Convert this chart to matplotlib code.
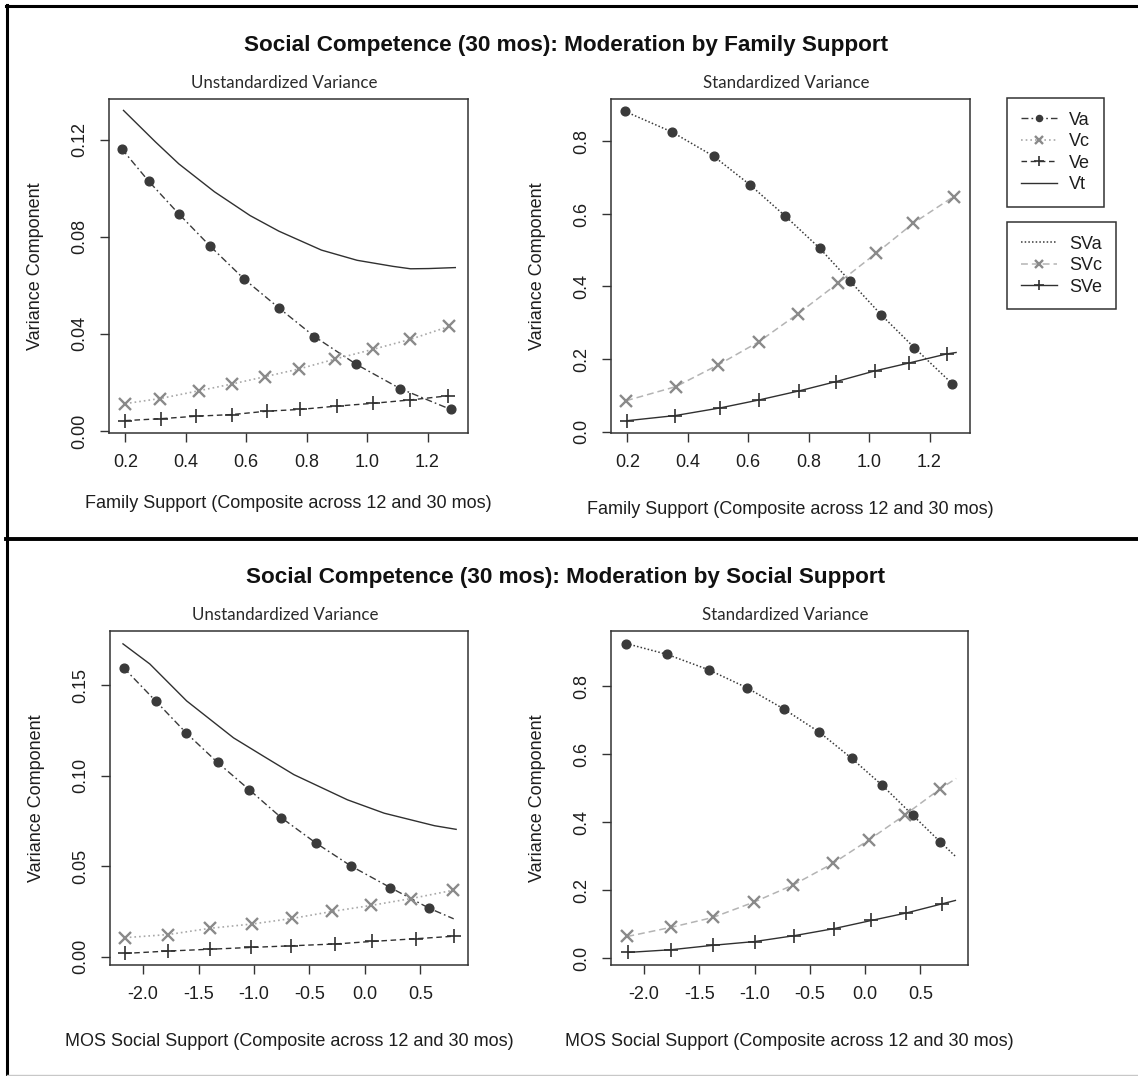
import matplotlib
matplotlib.use("Agg")
import matplotlib.pyplot as plt
from matplotlib.lines import Line2D

plt.rcParams['font.family'] = ['Liberation Sans', 'DejaVu Sans']

# ---------------- data ----------------
# Top: Family Support
fam_va_x = [0.188, 0.277, 0.377, 0.480, 0.593, 0.708, 0.826, 0.964, 1.109, 1.277]
fam_va_y = [0.1162, 0.1029, 0.0894, 0.0762, 0.0626, 0.0507, 0.0389, 0.0275, 0.0175, 0.0089]
fam_vc_x = [0.200, 0.316, 0.444, 0.554, 0.663, 0.776, 0.893, 1.018, 1.142, 1.272]
fam_vc_y = [0.0113, 0.0134, 0.0166, 0.0194, 0.0224, 0.0256, 0.0296, 0.0336, 0.0377, 0.0431]
fam_ve_x = [0.200, 0.318, 0.434, 0.554, 0.670, 0.778, 0.902, 1.018, 1.142, 1.268]
fam_ve_y = [0.0043, 0.0051, 0.0061, 0.0068, 0.0082, 0.0089, 0.0103, 0.0114, 0.0128, 0.0145]
fam_vt_x = [0.194, 0.300, 0.377, 0.495, 0.613, 0.708, 0.849, 0.967, 1.086, 1.144, 1.204, 1.292]
fam_vt_y = [0.1320, 0.1190, 0.1100, 0.0985, 0.0887, 0.0823, 0.0745, 0.0703, 0.0678, 0.0668, 0.0669, 0.0673]

fam_sva_x = [0.192, 0.348, 0.486, 0.605, 0.723, 0.836, 0.938, 1.040, 1.150, 1.275]
fam_sva_y = [0.883, 0.826, 0.759, 0.681, 0.594, 0.506, 0.414, 0.322, 0.231, 0.132]
fam_svc_x = [0.196, 0.361, 0.501, 0.636, 0.765, 0.897, 1.024, 1.147, 1.280]
fam_svc_y = [0.085, 0.124, 0.184, 0.248, 0.325, 0.409, 0.492, 0.575, 0.648]
fam_sve_x = [0.200, 0.358, 0.506, 0.635, 0.768, 0.892, 1.018, 1.132, 1.257]
fam_sve_y = [0.030, 0.044, 0.065, 0.087, 0.112, 0.138, 0.167, 0.189, 0.214]
fam_sve_end = (1.288, 0.218)

# Bottom: MOS Social Support
mos_va_x = [-2.175, -1.887, -1.609, -1.328, -1.043, -0.755, -0.445, -0.121, 0.231, 0.581]
mos_va_y = [0.1596, 0.1413, 0.1235, 0.1073, 0.0923, 0.0769, 0.0630, 0.0500, 0.0382, 0.0268]
mos_va_end = (0.801, 0.0210)
mos_vc_x = [-2.162, -1.774, -1.392, -1.020, -0.654, -0.292, 0.057, 0.419, 0.791]
mos_vc_y = [0.0106, 0.0123, 0.0158, 0.0181, 0.0212, 0.0251, 0.0284, 0.0322, 0.0367]
mos_ve_x = [-2.162, -1.774, -1.398, -1.027, -0.664, -0.270, 0.064, 0.458, 0.807]
mos_ve_y = [0.0019, 0.0032, 0.0042, 0.0052, 0.0061, 0.0071, 0.0085, 0.0100, 0.0114]
mos_vt_x = [-2.181, -1.939, -1.607, -1.184, -0.912, -0.640, -0.157, 0.175, 0.628, 0.823]
mos_vt_y = [0.1728, 0.1617, 0.1413, 0.1209, 0.1107, 0.1006, 0.0867, 0.0793, 0.0724, 0.0704]

mos_sva_x = [-2.159, -1.789, -1.416, -1.070, -0.738, -0.413, -0.121, 0.154, 0.430, 0.680]
mos_sva_y = [0.926, 0.894, 0.849, 0.796, 0.734, 0.665, 0.588, 0.509, 0.421, 0.342]
mos_sva_end = (0.816, 0.300)
mos_svc_x = [-2.150, -1.752, -1.376, -1.006, -0.654, -0.292, 0.033, 0.356, 0.681]
mos_svc_y = [0.064, 0.091, 0.120, 0.165, 0.215, 0.279, 0.348, 0.421, 0.499]
mos_svc_end = (0.823, 0.529)
mos_sve_x = [-2.145, -1.752, -1.376, -1.000, -0.647, -0.283, 0.055, 0.371, 0.696]
mos_sve_y = [0.017, 0.025, 0.038, 0.049, 0.066, 0.087, 0.111, 0.133, 0.160]
mos_sve_end = (0.816, 0.170)

fam_xticks = [0.2, 0.4, 0.6, 0.8, 1.0, 1.2]
mos_xticks = [-2.0, -1.5, -1.0, -0.5, 0.0, 0.5]
fam_unstd_yticks = [0.00, 0.04, 0.08, 0.12]
mos_unstd_yticks = [0.00, 0.05, 0.10, 0.15]
std_yticks = [0.0, 0.2, 0.4, 0.6, 0.8]

titles = ["Social Competence (30 mos): Moderation by Family Support",
          "Social Competence (30 mos): Moderation by Social Support"]
xlabels = ["Family Support (Composite across 12 and 30 mos)",
           "MOS Social Support (Composite across 12 and 30 mos)"]
subtitles = ["Unstandardized Variance", "Standardized Variance"]
ylabel = "Variance Component"
legend1 = ["Va", "Vc", "Ve", "Vt"]
legend2 = ["SVa", "SVc", "SVe"]

# ---------------- styles ----------------
DARK = '#3a3a3a'
STY = {
    'Va': dict(color=DARK, ls=(0, (5, 2.2, 1.2, 2.2)), lw=1.0, marker='o', ms=6.3, mfc=DARK, mec=DARK),
    'Vc': dict(color='#a8a8a8', ls=(0, (1, 1.8)), lw=1.2, marker='x', ms=8.3, mew=1.7, mec='#8a8a8a'),
    'Ve': dict(color='#303030', ls=(0, (4, 2.6)), lw=1.0, marker='+', ms=10, mew=1.2, mec='#303030'),
    'Vt': dict(color='#303030', ls='-', lw=1.0),
    'SVa': dict(color=DARK, ls=(0, (1, 1.4)), lw=1.1, marker='o', ms=6.3, mfc=DARK, mec=DARK),
    'SVc': dict(color='#b4b4b4', ls=(0, (4.5, 2.6)), lw=1.1, marker='x', ms=8.3, mew=1.7, mec='#8a8a8a'),
    'SVe': dict(color='#303030', ls='-', lw=1.0, marker='+', ms=10, mew=1.2, mec='#303030'),
}
TXT = '#1e1e1e'

W, H = 1138, 1076
fig = plt.figure(figsize=(W / 100, H / 100), dpi=100)


def rect(x0, y0, x1, y1):
    return [x0 / W, 1 - y1 / H, (x1 - x0) / W, (y1 - y0) / H]


def style_axes(ax, xticks, yticks, xlim, ylim, ylabfmt, xlab, xlab_off=77):
    ax.set_xlim(*xlim)
    ax.set_ylim(*ylim)
    ax.set_xticks(xticks)
    ax.set_xticklabels([f"{t:.1f}" for t in xticks])
    ax.set_yticks(yticks)
    ax.set_yticklabels([ylabfmt.format(t) for t in yticks], rotation=90, va='center')
    ax.tick_params(direction='out', length=6.5, width=1.0, color='#333333',
                   labelsize=13, labelcolor=TXT, pad=8.5)
    for s in ax.spines.values():
        s.set_color('#333333')
        s.set_linewidth(1.1)
    bb = ax.get_position()
    wpx, hpx = bb.width * W, bb.height * H
    ax.set_ylabel(ylabel, fontsize=13, color=TXT, va='center')
    ax.yaxis.set_label_coords(-73 / wpx, 0.5)
    ax.set_xlabel(xlab, fontsize=13, color=TXT, va='center')
    ax.xaxis.set_label_coords(0.5, -xlab_off / hpx)


def subtitle(ax, text):
    bb = ax.get_position()
    hpx = bb.height * H
    ax.text(0.5 - 4 / (bb.width * W), 1 + 16 / hpx, text, transform=ax.transAxes,
            ha='center', va='center', fontsize=12.2, color='#2a2a2a', family=['Lato', 'DejaVu Sans'])


def series(ax, key, x, y, end=None):
    lx, ly = list(x), list(y)
    if end is not None:
        lx.append(end[0]); ly.append(end[1])
    n = len(x)
    ax.plot(lx, ly, markevery=slice(0, n), **STY[key])


fam_xlim = (0.146, 1.334)
mos_xlim = (-2.298, 0.93)

# top-left
ax = fig.add_axes(rect(109, 99, 468, 433))
series(ax, 'Va', fam_va_x, fam_va_y)
series(ax, 'Vc', fam_vc_x, fam_vc_y)
series(ax, 'Ve', fam_ve_x, fam_ve_y)
series(ax, 'Vt', fam_vt_x, fam_vt_y)
style_axes(ax, fam_xticks, fam_unstd_yticks, fam_xlim, (-0.0008, 0.1367), "{:.2f}", xlabels[0], 71)
subtitle(ax, subtitles[0])

# top-right
ax = fig.add_axes(rect(611, 99, 970, 433))
series(ax, 'SVa', fam_sva_x, fam_sva_y)
series(ax, 'SVc', fam_svc_x, fam_svc_y)
series(ax, 'SVe', fam_sve_x, fam_sve_y, fam_sve_end)
style_axes(ax, fam_xticks, std_yticks, fam_xlim, (-0.004, 0.917), "{:.1f}", xlabels[0], 77)
subtitle(ax, subtitles[1])

# bottom-left
ax = fig.add_axes(rect(110, 631, 468, 965))
series(ax, 'Va', mos_va_x, mos_va_y, mos_va_end)
series(ax, 'Vc', mos_vc_x, mos_vc_y)
series(ax, 'Ve', mos_ve_x, mos_ve_y)
series(ax, 'Vt', mos_vt_x, mos_vt_y)
style_axes(ax, mos_xticks, mos_unstd_yticks, mos_xlim, (-0.0045, 0.1799), "{:.2f}", xlabels[1])
subtitle(ax, subtitles[0])

# bottom-right
ax = fig.add_axes(rect(611, 631, 968, 965))
series(ax, 'SVa', mos_sva_x, mos_sva_y, mos_sva_end)
series(ax, 'SVc', mos_svc_x, mos_svc_y, mos_svc_end)
series(ax, 'SVe', mos_sve_x, mos_sve_y, mos_sve_end)
style_axes(ax, mos_xticks, std_yticks, mos_xlim, (-0.02, 0.963), "{:.1f}", xlabels[1])
subtitle(ax, subtitles[1])

# titles
fig.text(566 / W, 1 - 46 / H, titles[0], ha='center', va='center', fontsize=16.2,
         fontweight='bold', color='#111111')
fig.text(566 / W, 1 - 577 / H, titles[1], ha='center', va='center', fontsize=16.2,
         fontweight='bold', color='#111111')

# legends
def legend_handle(key, with_marker=True):
    st = dict(STY[key])
    if not with_marker:
        st.pop('marker', None)
    return Line2D([], [], **st)

h1 = [legend_handle(k) for k in legend1]
h2 = [legend_handle('SVa', False), legend_handle('SVc'), legend_handle('SVe')]
for handles, labels, top in [(h1, legend1, 98), (h2, legend2, 222)]:
    leg = fig.legend(handles, labels, loc='upper left', bbox_to_anchor=(1007 / W, 1 - top / H),
                     frameon=True, fancybox=False, edgecolor='#333333', framealpha=1,
                     borderpad=0.75, handlelength=2.0, handletextpad=0.7, labelspacing=0.25,
                     fontsize=13, borderaxespad=0, markerscale=0.7)
    leg.get_frame().set_linewidth(1.1)
    for t in leg.get_texts():
        t.set_color(TXT)

# outer frame lines
for (x0, y0, x1, y1, lw, c) in [(6, 5.5, 1138, 5.5, 2.2, 'black'),
                                (7, 5, 7, 1076, 2.2, 'black'),
                                (6, 539, 1138, 539, 2.8, 'black'),
                                (7, 1075, 1138, 1075, 1.0, '#c8c8c8')]:
    fig.add_artist(Line2D([x0 / W, x1 / W], [1 - y0 / H, 1 - y1 / H], color=c, lw=lw,
                          transform=fig.transFigure))

fig.savefig("out.png", dpi=100, facecolor='white')
